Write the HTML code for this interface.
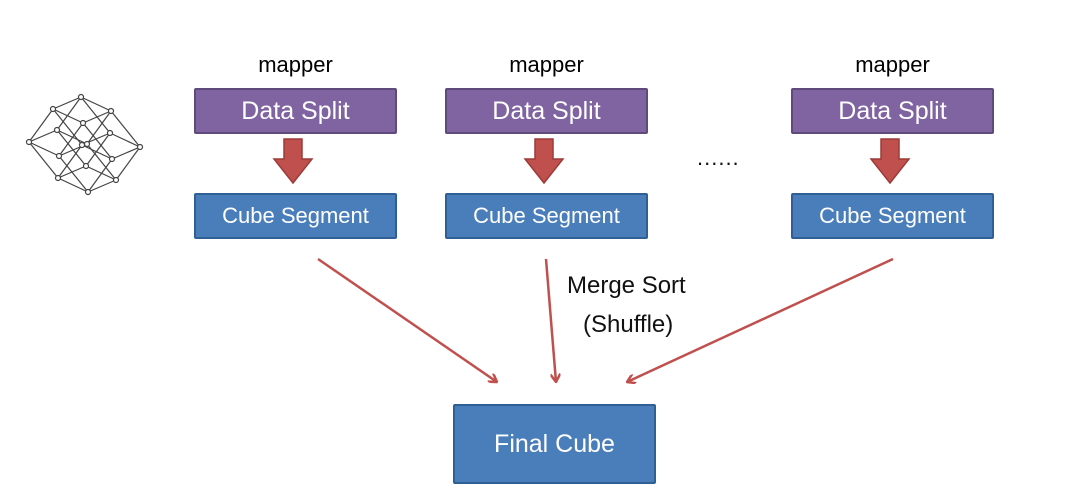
<!DOCTYPE html>
<html><head><style>
body{margin:0;width:1080px;height:497px;background:#fff;position:relative;overflow:hidden;font-family:"Liberation Sans","DejaVu Sans",sans-serif}
.b{position:absolute;color:#fff;display:flex;align-items:center;justify-content:center;box-sizing:border-box;border-radius:2px}
.ds{background:#8064a2;border:2px solid #5f4a7c;height:46px;width:203px;top:88px;font-size:25px}
.cs{background:#4a7ebb;border:2px solid #2f5f95;height:46px;width:203px;top:193px;font-size:22px}
.m{position:absolute;top:52px;font-size:22px;width:203px;text-align:center;color:#000}
.t{position:absolute;font-size:24px;color:#111}
</style></head><body>
<div class="m" style="left:194px">mapper</div>
<div class="m" style="left:445px">mapper</div>
<div class="m" style="left:791px">mapper</div>
<div class="b ds" style="left:194px">Data Split</div>
<div class="b ds" style="left:445px">Data Split</div>
<div class="b ds" style="left:791px">Data Split</div>
<div class="b cs" style="left:194px">Cube Segment</div>
<div class="b cs" style="left:445px">Cube Segment</div>
<div class="b cs" style="left:791px">Cube Segment</div>
<div class="b" style="left:453px;top:404px;width:203px;height:80px;background:#4a7ebb;border:2px solid #2f5f95;font-size:25px">Final Cube</div>
<div class="t" style="left:567px;top:272px">Merge Sort</div>
<div class="t" style="left:583px;top:311px">(Shuffle)</div>
<div class="t" style="left:697px;top:145px;font-size:22px;letter-spacing:1px">......</div>
<svg width="1080" height="497" style="position:absolute;left:0;top:0" id="s">
<defs><marker id="ah" markerWidth="10" markerHeight="10" refX="9" refY="5" orient="auto" markerUnits="userSpaceOnUse"><path d="M1,0 L9,5 L1,10" fill="none" stroke="#c0504d" stroke-width="2.5"/></marker></defs>
<g stroke="#c0504d" stroke-width="2.5" marker-end="url(#ah)">
<line x1="318" y1="259" x2="497" y2="382"/>
<line x1="546" y1="259" x2="556" y2="382"/>
<line x1="893" y1="259" x2="627" y2="382"/>
</g>
<g fill="#c0504d" stroke="#9c3b38" stroke-width="1.5">
<path d="M284,139 h18 v20 h10 l-19,24 l-19,-24 h10 z"/>
<path d="M535,139 h18 v20 h10 l-19,24 l-19,-24 h10 z"/>
<path d="M881,139 h18 v20 h10 l-19,24 l-19,-24 h10 z"/>
</g>
<g id="hc" stroke="#444" stroke-width="1.2" fill="#fff"></g>
</svg>
<script>
var g=document.getElementById('hc'),V=[[-28,12],[-24,33],[30,14],[29,36]],P=[],s='';
for(var i=0;i<16;i++){var x=81,y=97;for(var k=0;k<4;k++)if(i>>k&1){x+=V[k][0];y+=V[k][1];}P.push([x,y]);}
for(var i=0;i<16;i++)for(var k=0;k<4;k++){var j=i|(1<<k);if(j!=i)s+='<line x1="'+P[i][0]+'" y1="'+P[i][1]+'" x2="'+P[j][0]+'" y2="'+P[j][1]+'"/>';}
for(var i=0;i<16;i++)s+='<circle cx="'+P[i][0]+'" cy="'+P[i][1]+'" r="2.5"/>';
g.innerHTML=s;
</script>
</body></html>
